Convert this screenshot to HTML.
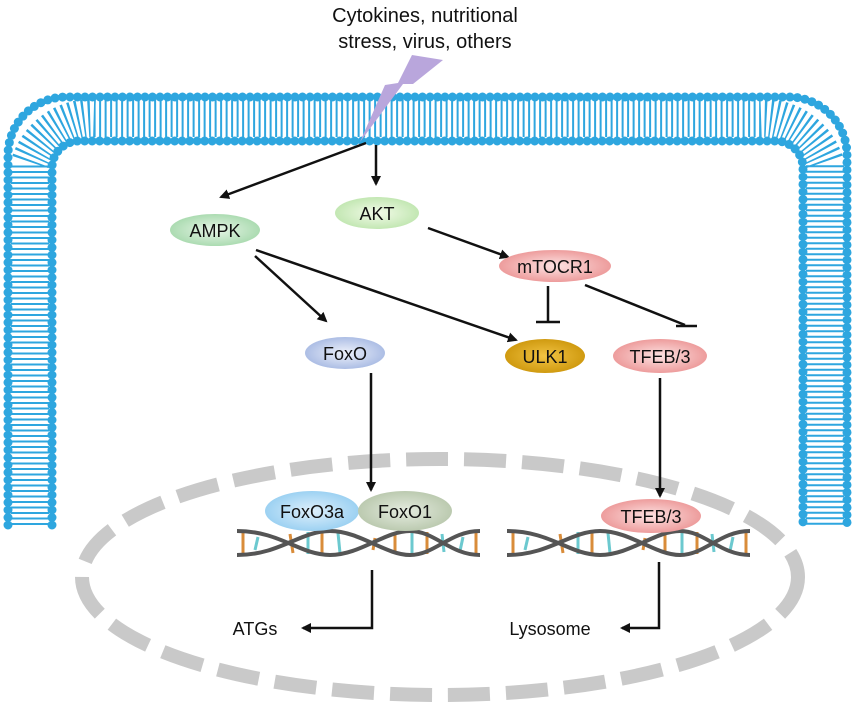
<!DOCTYPE html>
<html><head><style>body{margin:0;background:#fff}svg{display:block}text{font-family:"Liberation Sans",sans-serif;fill:#111}</style></head>
<body>
<svg width="855" height="702" viewBox="0 0 855 702">
<defs>
<marker id="a" markerWidth="10" markerHeight="10" refX="8" refY="5" orient="auto" markerUnits="userSpaceOnUse"><path d="M0,0 L10,5 L0,10 z" fill="#111"/></marker>
<radialGradient id="g1" cx=".5" cy=".5" r=".6"><stop offset="0" stop-color="#e9f6e9"/><stop offset="1" stop-color="#9fd6a6"/></radialGradient>
<radialGradient id="g2" cx=".5" cy=".5" r=".6"><stop offset="0" stop-color="#f3fbe9"/><stop offset="1" stop-color="#b9e3a8"/></radialGradient>
<radialGradient id="g3" cx=".5" cy=".5" r=".6"><stop offset="0" stop-color="#fde3e3"/><stop offset="1" stop-color="#ea8e8e"/></radialGradient>
<radialGradient id="g4" cx=".5" cy=".5" r=".6"><stop offset="0" stop-color="#eef2fb"/><stop offset="1" stop-color="#9fb3e0"/></radialGradient>
<radialGradient id="g5" cx=".5" cy=".5" r=".6"><stop offset="0" stop-color="#f1c343"/><stop offset="1" stop-color="#c99206"/></radialGradient>
<radialGradient id="g6" cx=".5" cy=".5" r=".6"><stop offset="0" stop-color="#dff0fc"/><stop offset="1" stop-color="#8fcbf0"/></radialGradient>
<radialGradient id="g7" cx=".5" cy=".5" r=".6"><stop offset="0" stop-color="#e5ece0"/><stop offset="1" stop-color="#b3c3a6"/></radialGradient>
</defs>
<!-- membrane -->
<g fill="none" stroke="#2ea6df">
<path d="M30,525 V163 A65,65 0 0 1 95,118 H760 A65,65 0 0 1 825,163 V525" stroke-width="38" stroke-dasharray="2 3.5"/>
<path d="M8,525 V155 A58,58 0 0 1 66,97 H789 A58,58 0 0 1 847,155 V525" stroke-width="9" stroke-dasharray="0 7.5" stroke-linecap="round"/>
<path d="M52,525 V168 A27,27 0 0 1 79,141 H776 A27,27 0 0 1 803,168 V525" stroke-width="9" stroke-dasharray="0 7.5" stroke-linecap="round"/>
</g>
<!-- nucleus -->
<ellipse cx="440" cy="577" rx="358" ry="118" fill="none" stroke="#c9c9c9" stroke-width="14" stroke-dasharray="42 16"/>
<!-- lightning -->
<polygon points="412,55 443,60 413,84 403,84 360,142 385,85 398,83" fill="#b9a6dc"/>
<text x="425" y="22" font-size="20" text-anchor="middle">Cytokines, nutritional</text>
<text x="425" y="48" font-size="20" text-anchor="middle">stress, virus, others</text>
<!-- arrows -->
<g stroke="#111" stroke-width="2.5" fill="none">
<line x1="376" y1="145" x2="376" y2="184" marker-end="url(#a)"/>
<line x1="366" y1="143" x2="221" y2="197" marker-end="url(#a)"/>
<line x1="428" y1="228" x2="508" y2="257" marker-end="url(#a)"/>
<line x1="255" y1="256" x2="326" y2="321" marker-end="url(#a)"/>
<line x1="256" y1="250" x2="516" y2="340" marker-end="url(#a)"/>
<line x1="548" y1="286" x2="548" y2="322"/><line x1="536" y1="322" x2="560" y2="322"/>
<line x1="585" y1="285" x2="685" y2="325"/><line x1="676" y1="326" x2="697" y2="326"/>
<line x1="371" y1="373" x2="371" y2="490" marker-end="url(#a)"/>
<line x1="660" y1="378" x2="660" y2="496" marker-end="url(#a)"/>
<polyline points="372,570 372,628 303,628" marker-end="url(#a)"/>
<polyline points="659,562 659,628 622,628" marker-end="url(#a)"/>
</g>
<!-- DNA -->
<g id="dna">
<g stroke-width="3"><line x1="243" y1="533" x2="243" y2="553" stroke="#d98c3a"/><line x1="258" y1="537" x2="255" y2="550" stroke="#6cc9cf"/><line x1="290" y1="534" x2="293" y2="553" stroke="#d98c3a"/><line x1="308" y1="532" x2="308" y2="554" stroke="#6cc9cf"/><line x1="322" y1="531" x2="322" y2="555" stroke="#d98c3a"/><line x1="338" y1="533" x2="340" y2="553" stroke="#6cc9cf"/><line x1="375" y1="538" x2="373" y2="550" stroke="#d98c3a"/><line x1="395" y1="533" x2="395" y2="553" stroke="#d98c3a"/><line x1="412" y1="531" x2="412" y2="555" stroke="#6cc9cf"/><line x1="427" y1="532" x2="427" y2="554" stroke="#d98c3a"/><line x1="442" y1="534" x2="444" y2="552" stroke="#6cc9cf"/><line x1="463" y1="537" x2="460" y2="551" stroke="#6cc9cf"/><line x1="476" y1="532" x2="476" y2="554" stroke="#d98c3a"/></g>
<path d="M237,531 C280,531 300,555 330,555 S385,531 410,531 S450,555 480,555" fill="none" stroke="#555" stroke-width="4"/>
<path d="M237,555 C280,555 300,531 330,531 S385,555 410,555 S450,531 480,531" fill="none" stroke="#555" stroke-width="4"/>
</g>
<use href="#dna" x="270"/>
<!-- nodes -->
<ellipse cx="215" cy="230" rx="45" ry="16" fill="url(#g1)"/><text x="215" y="237" font-size="18" text-anchor="middle">AMPK</text>
<ellipse cx="377" cy="213" rx="42" ry="16" fill="url(#g2)"/><text x="377" y="220" font-size="18" text-anchor="middle">AKT</text>
<ellipse cx="555" cy="266" rx="56" ry="16" fill="url(#g3)"/><text x="555" y="273" font-size="18" text-anchor="middle">mTOCR1</text>
<ellipse cx="345" cy="353" rx="40" ry="16" fill="url(#g4)"/><text x="345" y="360" font-size="18" text-anchor="middle">FoxO</text>
<ellipse cx="545" cy="356" rx="40" ry="17" fill="url(#g5)"/><text x="545" y="363" font-size="18" text-anchor="middle">ULK1</text>
<ellipse cx="660" cy="356" rx="47" ry="17" fill="url(#g3)"/><text x="660" y="363" font-size="18" text-anchor="middle">TFEB/3</text>
<ellipse cx="312" cy="511" rx="47" ry="20" fill="url(#g6)"/><text x="312" y="518" font-size="18" text-anchor="middle">FoxO3a</text>
<ellipse cx="405" cy="511" rx="47" ry="20" fill="url(#g7)"/><text x="405" y="518" font-size="18" text-anchor="middle">FoxO1</text>
<ellipse cx="651" cy="516" rx="50" ry="17" fill="url(#g3)"/><text x="651" y="523" font-size="18" text-anchor="middle">TFEB/3</text>
<text x="255" y="635" font-size="18" text-anchor="middle">ATGs</text>
<text x="550" y="635" font-size="18" text-anchor="middle">Lysosome</text>
</svg>
</body></html>
